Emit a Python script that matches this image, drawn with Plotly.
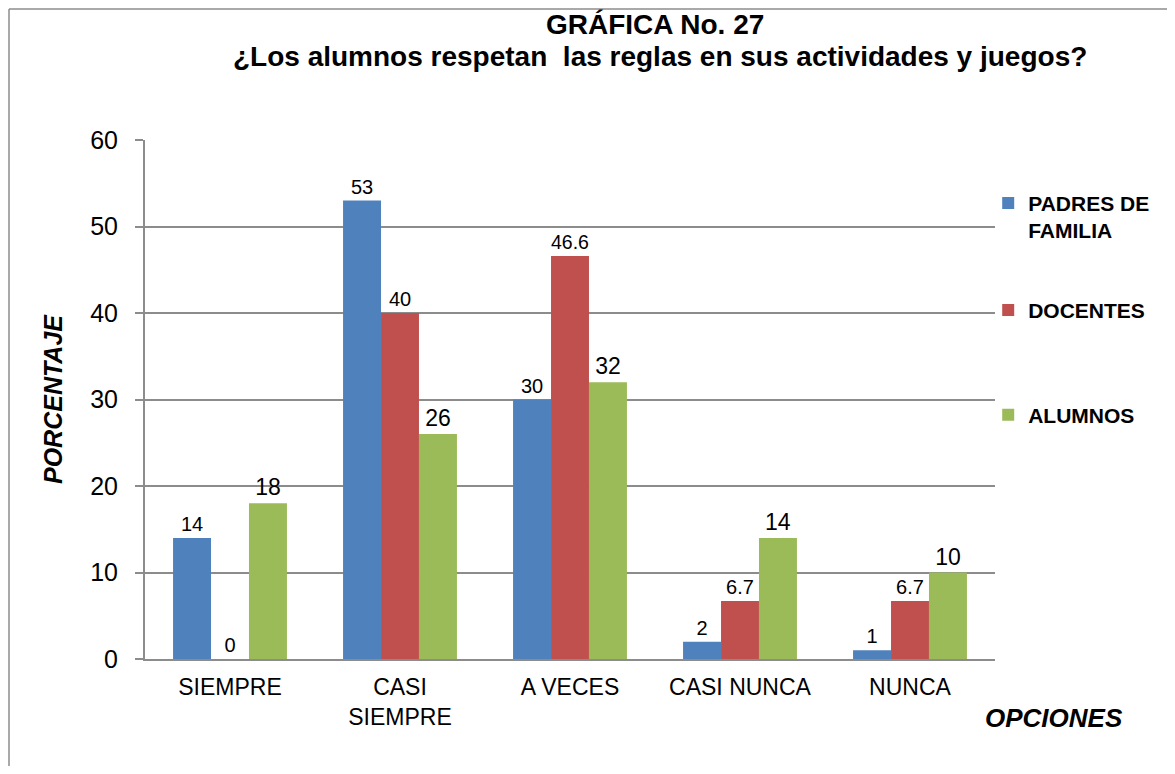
import plotly.graph_objects as go

categorias = ["SIEMPRE", "CASI<br>SIEMPRE", "A VECES", "CASI NUNCA", "NUNCA"]
padres = [14, 53, 30, 2, 1]
docentes = [0, 40, 46.6, 6.7, 6.7]
alumnos = [18, 26, 32, 14, 10]
y_ticks = [0, 10, 20, 30, 40, 50, 60]

FONT = "Liberation Sans, Arial, sans-serif"
GRID = "#8c8c8c"

series = [
    ("<b>PADRES DE<br>FAMILIA</b>", padres, "#4F81BD", 20, "legend"),
    ("<b>DOCENTES</b>", docentes, "#C0504D", 20, "legend2"),
    ("<b>ALUMNOS</b>", alumnos, "#9BBB59", 23, "legend3"),
]

fig = go.Figure()
for name, vals, color, tsize, leg in series:
    fig.add_trace(go.Bar(
        x=categorias,
        y=vals,
        name=name,
        marker=dict(color=color, line=dict(width=0)),
        text=[str(v) for v in vals],
        textposition="outside",
        textfont=dict(family=FONT, size=tsize, color="black"),
        cliponaxis=False,
        legend=leg,
    ))


def _legend(y):
    return dict(
        x=0.992, y=y, xanchor="left", yanchor="middle",
        font=dict(family=FONT, size=21, color="black"),
        itemwidth=30, valign="top", bgcolor="rgba(0,0,0,0)",
    )


fig.update_layout(
    width=1167,
    height=758,
    paper_bgcolor="white",
    plot_bgcolor="white",
    font=dict(family=FONT, color="black"),
    margin=dict(l=137, r=180, t=132, b=107),
    barmode="group",
    bargap=0.33,
    bargroupgap=0,
    showlegend=True,
    legend=_legend(0.852),
    legend2=_legend(0.672),
    legend3=_legend(0.470),
    xaxis=dict(
        showgrid=False,
        showline=True,
        linecolor=GRID,
        linewidth=2,
        ticks="",
        ticklabelstandoff=6,
        tickfont=dict(family=FONT, size=23, color="black"),
    ),
    yaxis=dict(
        range=[0, 60],
        tickvals=y_ticks,
        showgrid=True,
        gridcolor=GRID,
        gridwidth=1.5,
        showline=True,
        linecolor=GRID,
        linewidth=2,
        ticks="outside",
        ticklen=8,
        tickcolor=GRID,
        tickwidth=1.5,
        ticklabelstandoff=12,
        tickfont=dict(family=FONT, size=25, color="black"),
        zeroline=False,
        title=dict(
            text="<b><i>PORCENTAJE</i></b>",
            font=dict(family=FONT, size=25, color="black"),
            standoff=20,
        ),
    ),
    annotations=[
        dict(
            text="<b>GRÁFICA No. 27</b>",
            xref="paper", yref="paper", x=0.6, y=1.2216,
            xanchor="center", yanchor="middle", showarrow=False,
            font=dict(family=FONT, size=28, color="black"),
        ),
        dict(
            text="<b>¿Los alumnos respetan  las reglas en sus actividades y juegos?</b>",
            xref="paper", yref="paper", x=0.606, y=1.1618,
            xanchor="center", yanchor="middle", showarrow=False,
            font=dict(family=FONT, size=28, color="black"),
        ),
        dict(
            text="<b><i>OPCIONES</i></b>",
            xref="paper", yref="paper", x=1.069, y=-0.1137,
            xanchor="center", yanchor="middle", showarrow=False,
            font=dict(family=FONT, size=26, color="black"),
        ),
    ],
    shapes=[
        dict(type="line", xref="paper", yref="paper",
             x0=-0.16, x1=1.23, y0=1.2524, y1=1.2524,
             line=dict(color="#8c8c8c", width=1.5)),
        dict(type="line", xref="paper", yref="paper",
             x0=-0.16, x1=-0.16, y0=1.2524, y1=-0.3,
             line=dict(color="#8c8c8c", width=1.5)),
    ],
)

fig.write_html("out.html")
